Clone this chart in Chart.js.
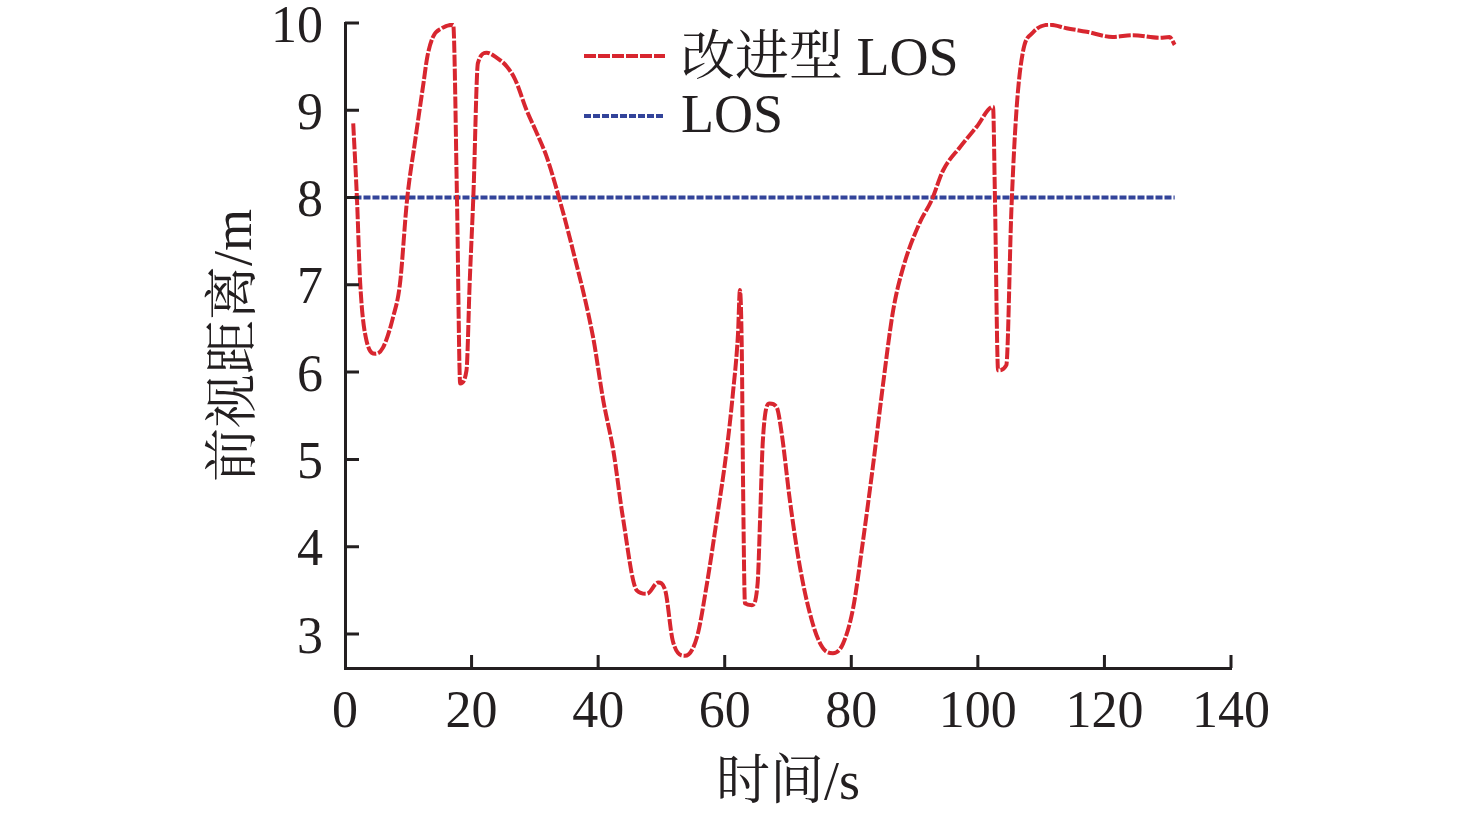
<!DOCTYPE html>
<html lang="zh">
<head>
    <meta charset="UTF-8">
    <title>前视距离</title>
    <style>
        body {
            margin: 0;
            padding: 0;
            background-color: #fff;
        }
        canvas {
            display: block;
        }
    </style>
</head>
<body>
    <canvas id="lookChart" width="1476" height="816"></canvas>

    <script src="https://cdn.jsdelivr.net/npm/chart.js"></script>
    <script>
        // values
        const timeImproved = [1.3, 1.9, 2.4, 3.4, 4.8, 6.0, 7.6, 8.7, 9.8, 11.1, 12.4, 13.0, 13.9, 15.3, 17.1,
            17.7, 18.2, 19.2, 19.7, 20.3, 21.0, 22.4, 24.0, 25.6, 26.9, 28.7, 30.3, 31.9, 33.5,
            36.0, 39.2, 40.8, 42.4, 43.9, 46.1, 47.7, 49.5, 50.6, 51.8, 53.7, 55.6, 57.2, 58.8,
            60.3, 61.3, 62.1, 62.4, 62.7, 62.9, 63.2, 64.3, 65.2, 65.6, 66.0, 67.1, 68.2, 69.0,
            70.3, 71.9, 73.9, 75.5, 77.1, 78.7, 80.3, 81.8, 83.4, 85.0, 86.6, 88.2, 90.8, 92.7,
            94.5, 97.2, 99.8, 102.4, 102.7, 103.2, 104.5, 105.3, 106.1, 107.1, 108.7, 111.4,
            114.0, 117.2, 121.3, 124.5, 128.7, 130.3, 131.1];
        const distImproved = [8.85, 7.97, 7.02, 6.36, 6.21, 6.28, 6.63, 7.02, 7.97, 8.66, 9.31, 9.61, 9.84, 9.94, 9.98,
            7.97, 5.87, 6.02, 7.02, 8.05, 9.54, 9.66, 9.60, 9.50, 9.35, 9.00, 8.74, 8.46, 8.08,
            7.40, 6.40, 5.68, 5.10, 4.34, 3.50, 3.46, 3.59, 3.50, 2.92, 2.75, 2.96, 3.58, 4.34,
            5.10, 5.76, 6.44, 6.94, 6.25, 4.72, 3.35, 3.33, 3.58, 4.34, 5.18, 5.64, 5.60, 5.30,
            4.53, 3.76, 3.12, 2.84, 2.78, 2.89, 3.30, 4.04, 4.91, 5.85, 6.70, 7.20, 7.71, 7.97,
            8.31, 8.58, 8.81, 9.04, 8.00, 6.02, 6.08, 7.86, 9.00, 9.66, 9.89, 9.98,
            9.94, 9.90, 9.84, 9.86, 9.83, 9.84, 9.75];

        const timeLos = [1.5, 131.1];
        const distLos = [8, 8];

        const xTicks = [0, 20, 40, 60, 80, 100, 120, 140];
        const yTicks = [3, 4, 5, 6, 7, 8, 9, 10];

        const seriesNames = ['改进型 LOS', 'LOS'];

        const axisColor = '#231f20';
        const serif = '"Liberation Serif", "Noto Serif CJK SC", "Noto Sans CJK SC", serif';

        function toPoints(xs, ys) {
            return xs.map((x, i) => ({ x: x, y: ys[i] }));
        }

        // inward tick marks + legend drawn over the chart
        const decor = {
            id: 'decor',
            afterDraw(chart) {
                const ctx = chart.ctx;
                const xs = chart.scales.x;
                const ys = chart.scales.y;
                const area = chart.chartArea;
                ctx.save();
                ctx.strokeStyle = axisColor;
                ctx.lineWidth = 3;
                ctx.beginPath();
                xTicks.forEach(v => {
                    if (v === xs.min) return;
                    const px = xs.getPixelForValue(v);
                    ctx.moveTo(px, area.bottom);
                    ctx.lineTo(px, area.bottom - 13);
                });
                yTicks.forEach(v => {
                    const py = ys.getPixelForValue(v);
                    ctx.moveTo(area.left, py);
                    ctx.lineTo(area.left + 14, py);
                });
                ctx.stroke();

                // legend
                const rows = [56, 116];
                const textRows = [61, 118];
                chart.data.datasets.forEach((ds, i) => {
                    ctx.strokeStyle = ds.borderColor;
                    ctx.lineWidth = ds.borderWidth;
                    ctx.setLineDash(ds.borderDash);
                    ctx.beginPath();
                    ctx.moveTo(584, rows[i]);
                    ctx.lineTo(665, rows[i]);
                    ctx.stroke();
                    ctx.setLineDash([]);
                    ctx.fillStyle = axisColor;
                    ctx.font = '54px ' + serif;
                    ctx.textBaseline = 'middle';
                    ctx.textAlign = 'left';
                    ctx.fillText(ds.label, 681, textRows[i]);
                });
                ctx.restore();
            }
        };

        function drawChart() {
            const ctx = document.getElementById('lookChart').getContext('2d');
            new Chart(ctx, {
                type: 'line',
                data: {
                    datasets: [{
                        label: seriesNames[0],
                        data: toPoints(timeImproved, distImproved),
                        borderColor: '#d8262f',
                        borderWidth: 4,
                        borderDash: [12, 2],
                        cubicInterpolationMode: 'monotone',
                        pointRadius: 0,
                        fill: false
                    }, {
                        label: seriesNames[1],
                        data: toPoints(timeLos, distLos),
                        borderColor: '#33449a',
                        borderWidth: 4,
                        borderDash: [7, 2],
                        pointRadius: 0,
                        fill: false
                    }]
                },
                options: {
                    responsive: false,
                    animation: false,
                    events: [],
                    layout: {
                        padding: { left: 0, top: 23, right: 245, bottom: 0 }
                    },
                    plugins: {
                        legend: { display: false },
                        tooltip: { enabled: false }
                    },
                    scales: {
                        x: {
                            type: 'linear',
                            min: 0,
                            max: 140,
                            afterBuildTicks: s => { s.ticks = xTicks.map(v => ({ value: v })); },
                            afterFit: s => { s.height = 148; s.paddingLeft = 0; s.paddingRight = 0; },
                            grid: { display: true, drawOnChartArea: false, drawTicks: false },
                            border: { display: true, width: 3, color: axisColor },
                            ticks: {
                                padding: 14,
                                color: axisColor,
                                maxRotation: 0,
                                font: { family: serif, size: 52 }
                            },
                            title: {
                                display: true,
                                text: '时间/s',
                                color: axisColor,
                                font: { family: serif, size: 54 },
                                padding: { top: 0, bottom: -1 }
                            }
                        },
                        y: {
                            type: 'linear',
                            min: 2.61,
                            max: 10,
                            afterBuildTicks: s => { s.ticks = yTicks.map(v => ({ value: v })); },
                            afterFit: s => { s.width = 345; s.paddingTop = 0; s.paddingBottom = 0; },
                            grid: { display: true, drawOnChartArea: false, drawTicks: false },
                            border: { display: true, width: 3, color: axisColor },
                            ticks: {
                                padding: 22,
                                labelOffset: 5,
                                color: axisColor,
                                font: { family: serif, size: 52 }
                            },
                            title: {
                                display: true,
                                text: '前视距离/m',
                                color: axisColor,
                                font: { family: serif, size: 54 },
                                padding: { top: 204, bottom: 0 }
                            }
                        }
                    }
                },
                plugins: [decor]
            });
        }

        drawChart();
    </script>
</body>
</html>
